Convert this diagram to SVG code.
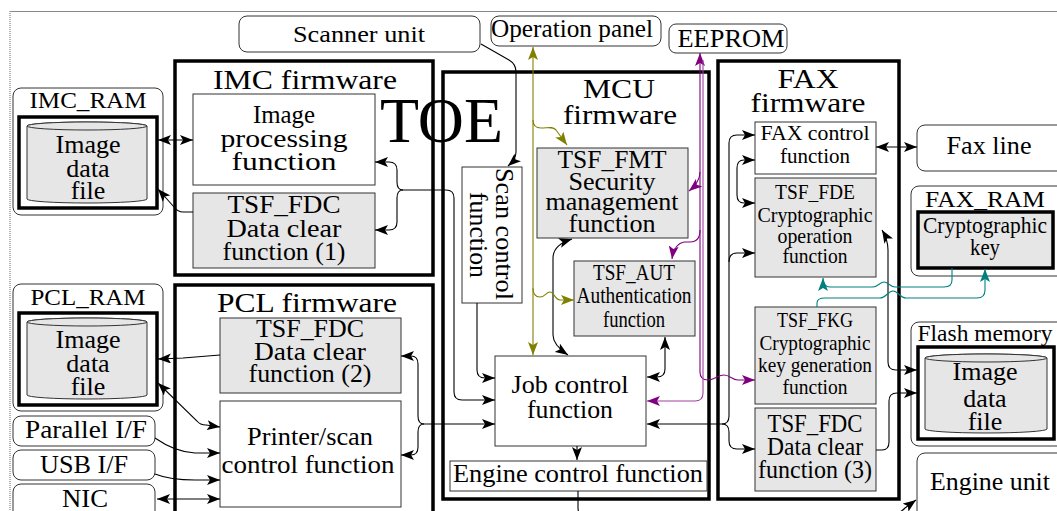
<svg xmlns="http://www.w3.org/2000/svg" width="1057" height="511" viewBox="0 0 1057 511">
<style>
text { font-family: "Liberation Serif", "Times New Roman", serif; fill:#000; text-anchor:middle; }
.frame { fill:none; stroke:#000; stroke-width:3.5; }
.box { fill:#fff; stroke:#333; stroke-width:1; }
.tsf { fill:#e6e6e6; stroke:#333; stroke-width:1; }
.ext { fill:#fff; stroke:#333; stroke-width:1; }
.store { fill:#fff; stroke:#000; stroke-width:3.5; }
.storeg { fill:#e6e6e6; stroke:#000; stroke-width:3.5; }
.cyl { fill:#e6e6e6; stroke:#333; stroke-width:1; }
.c { fill:none; stroke:#000; stroke-width:1.1; }
.ol { stroke:#808000; } .pu { stroke:#800080; } .te { stroke:#008080; }
</style>
<defs>
<marker id="a" viewBox="0 0 13 10" refX="13" refY="5" markerWidth="13" markerHeight="10" markerUnits="userSpaceOnUse" orient="auto-start-reverse"><path d="M0,0 L13,5 L0,10 L3,5 z" fill="#000"/></marker>
<marker id="aol" viewBox="0 0 13 10" refX="13" refY="5" markerWidth="13" markerHeight="10" markerUnits="userSpaceOnUse" orient="auto-start-reverse"><path d="M0,0 L13,5 L0,10 L3,5 z" fill="#808000"/></marker>
<marker id="apu" viewBox="0 0 13 10" refX="13" refY="5" markerWidth="13" markerHeight="10" markerUnits="userSpaceOnUse" orient="auto-start-reverse"><path d="M0,0 L13,5 L0,10 L3,5 z" fill="#800080"/></marker>
<marker id="ate" viewBox="0 0 13 10" refX="13" refY="5" markerWidth="13" markerHeight="10" markerUnits="userSpaceOnUse" orient="auto-start-reverse"><path d="M0,0 L13,5 L0,10 L3,5 z" fill="#008080"/></marker>
</defs>
<rect width="1057" height="511" fill="#fff"/>
<line x1="10" y1="11.5" x2="1057" y2="11.5" stroke="#888" stroke-width="1"/>
<line x1="10" y1="11" x2="10" y2="511" stroke="#999" stroke-width="1.5" stroke-dasharray="1,1"/>

<!-- frames -->
<g id="imc-firmware">
<rect class="frame" x="175" y="61" width="258" height="214"/>
<text x="305" y="89" font-size="27" textLength="184" lengthAdjust="spacingAndGlyphs">IMC firmware</text>
</g>
<g id="pcl-firmware">
<rect class="frame" x="175" y="285" width="258" height="240"/>
<text x="307" y="312" font-size="27" textLength="180" lengthAdjust="spacingAndGlyphs">PCL firmware</text>
</g>
<g id="mcu-firmware">
<rect class="frame" x="443" y="72" width="266" height="427"/>
<text x="619" y="98" font-size="28" textLength="72" lengthAdjust="spacingAndGlyphs">MCU</text>
<text x="620" y="124" font-size="28" textLength="114" lengthAdjust="spacingAndGlyphs">firmware</text>
</g>
<g id="fax-firmware">
<rect class="frame" x="718" y="61" width="181" height="438"/>
<text x="808" y="88" font-size="28" textLength="61" lengthAdjust="spacingAndGlyphs">FAX</text>
<text x="808" y="112" font-size="28" textLength="115" lengthAdjust="spacingAndGlyphs">firmware</text>
</g>
<g id="toe-label">
<text x="441.5" y="142" font-size="64" textLength="123" lengthAdjust="spacingAndGlyphs">TOE</text>
</g>

<!-- external nodes -->
<g id="scanner-unit">
<rect class="ext" x="239" y="16" width="241" height="36" rx="8"/>
<text x="359" y="42" font-size="24" textLength="132" lengthAdjust="spacingAndGlyphs">Scanner unit</text>
</g>
<g id="operation-panel">
<rect class="ext" x="491" y="16" width="170" height="30" rx="8"/>
<text x="572" y="37" font-size="25" textLength="162" lengthAdjust="spacingAndGlyphs">Operation panel</text>
</g>
<g id="eeprom">
<rect class="ext" x="669" y="24" width="118" height="29" rx="7"/>
<text x="731" y="47" font-size="25" textLength="107" lengthAdjust="spacingAndGlyphs">EEPROM</text>
</g>
<g id="imc-ram">
<rect class="ext" x="13" y="88" width="150" height="127" rx="8"/>
<text x="88" y="108" font-size="23" textLength="117" lengthAdjust="spacingAndGlyphs">IMC_RAM</text>
<rect class="store" x="19" y="117" width="138" height="91"/>
<path class="cyl" d="M27,126 L27,199 A60,4 0 0 0 147,199 L147,126 A60,4 0 0 0 27,126 Z"/>
<ellipse class="cyl" cx="87" cy="126" rx="60" ry="4"/>
<text x="88" y="153" font-size="26">Image</text>
<text x="88" y="177" font-size="26">data</text>
<text x="88" y="199" font-size="26">file</text>
</g>
<g id="pcl-ram">
<rect class="ext" x="13" y="284" width="150" height="127" rx="8"/>
<text x="88" y="305" font-size="23" textLength="115" lengthAdjust="spacingAndGlyphs">PCL_RAM</text>
<rect class="store" x="19" y="313" width="138" height="92"/>
<path class="cyl" d="M27,322 L27,395 A60,4 0 0 0 147,395 L147,322 A60,4 0 0 0 27,322 Z"/>
<ellipse class="cyl" cx="87" cy="322" rx="60" ry="4"/>
<text x="88" y="348" font-size="26">Image</text>
<text x="88" y="372" font-size="26">data</text>
<text x="88" y="395" font-size="26">file</text>
</g>
<g id="parallel-if">
<rect class="ext" x="13" y="416" width="142" height="30" rx="8"/>
<text x="86" y="438" font-size="26" textLength="122" lengthAdjust="spacingAndGlyphs">Parallel I/F</text>
</g>
<g id="usb-if">
<rect class="ext" x="13" y="450" width="142" height="30" rx="8"/>
<text x="84" y="473" font-size="26" textLength="88" lengthAdjust="spacingAndGlyphs">USB I/F</text>
</g>
<g id="nic">
<rect class="ext" x="13" y="484" width="142" height="36" rx="8"/>
<text x="85" y="507" font-size="26" textLength="46" lengthAdjust="spacingAndGlyphs">NIC</text>
</g>
<g id="fax-line">
<rect class="ext" x="917" y="125" width="150" height="46" rx="8"/>
<text x="989" y="154" font-size="25" textLength="85" lengthAdjust="spacingAndGlyphs">Fax line</text>
</g>
<g id="fax-ram">
<rect class="ext" x="911" y="186" width="156" height="90" rx="8"/>
<text x="985" y="207" font-size="24" textLength="120" lengthAdjust="spacingAndGlyphs">FAX_RAM</text>
<rect class="storeg" x="918" y="212" width="135" height="56"/>
<text x="985" y="233" font-size="23" textLength="124" lengthAdjust="spacingAndGlyphs">Cryptographic</text>
<text x="985" y="255" font-size="23" textLength="30" lengthAdjust="spacingAndGlyphs">key</text>
</g>
<g id="flash-memory">
<rect class="ext" x="911" y="322" width="156" height="124" rx="8"/>
<text x="985" y="341" font-size="23" textLength="135" lengthAdjust="spacingAndGlyphs">Flash memory</text>
<rect class="store" x="918" y="347" width="136" height="92"/>
<path class="cyl" d="M925,358 L925,429 A61,4 0 0 0 1047,429 L1047,358 A61,4 0 0 0 925,358 Z"/>
<ellipse class="cyl" cx="986" cy="358" rx="61" ry="4"/>
<text x="985" y="380" font-size="26">Image</text>
<text x="985" y="407" font-size="26">data</text>
<text x="985" y="430" font-size="26">file</text>
</g>
<g id="engine-unit">
<rect class="ext" x="917" y="453" width="150" height="70" rx="8"/>
<text x="990" y="490" font-size="25" textLength="120" lengthAdjust="spacingAndGlyphs">Engine unit</text>
</g>

<!-- IMC nodes -->
<g id="image-processing">
<rect class="box" x="193" y="94" width="182" height="91"/>
<text x="284" y="123" font-size="26" textLength="62" lengthAdjust="spacingAndGlyphs">Image</text>
<text x="284" y="147" font-size="26" textLength="127" lengthAdjust="spacingAndGlyphs">processing</text>
<text x="284" y="170" font-size="26" textLength="105" lengthAdjust="spacingAndGlyphs">function</text>
</g>
<g id="tsf-fdc-1">
<rect class="tsf" x="193" y="193" width="182" height="75"/>
<text x="284" y="213" font-size="26" textLength="113" lengthAdjust="spacingAndGlyphs">TSF_FDC</text>
<text x="284" y="237" font-size="26" textLength="115" lengthAdjust="spacingAndGlyphs">Data clear</text>
<text x="284" y="260" font-size="26" textLength="123" lengthAdjust="spacingAndGlyphs">function (1)</text>
</g>
<!-- PCL nodes -->
<g id="tsf-fdc-2">
<rect class="tsf" x="220" y="318" width="181" height="75"/>
<text x="310" y="337" font-size="26" textLength="108" lengthAdjust="spacingAndGlyphs">TSF_FDC</text>
<text x="310" y="360" font-size="26" textLength="112" lengthAdjust="spacingAndGlyphs">Data clear</text>
<text x="310" y="382" font-size="26" textLength="123" lengthAdjust="spacingAndGlyphs">function (2)</text>
</g>
<g id="printer-scan-control">
<rect class="box" x="220" y="401" width="181" height="106"/>
<text x="310" y="445" font-size="26" textLength="126" lengthAdjust="spacingAndGlyphs">Printer/scan</text>
<text x="308" y="473" font-size="26" textLength="173" lengthAdjust="spacingAndGlyphs">control function</text>
</g>
<!-- MCU nodes -->
<g id="scan-control">
<rect class="box" x="462" y="167" width="60" height="136"/>
<text transform="translate(496,234) rotate(90)" font-size="26" textLength="132" lengthAdjust="spacingAndGlyphs">Scan control</text>
<text transform="translate(470,235) rotate(90)" font-size="26" textLength="86" lengthAdjust="spacingAndGlyphs">function</text>
</g>
<g id="tsf-fmt">
<rect class="tsf" x="537" y="148" width="151" height="90"/>
<text x="612" y="168" font-size="25" textLength="109" lengthAdjust="spacingAndGlyphs">TSF_FMT</text>
<text x="612" y="190" font-size="25" textLength="87" lengthAdjust="spacingAndGlyphs">Security</text>
<text x="612" y="210" font-size="25" textLength="133" lengthAdjust="spacingAndGlyphs">management</text>
<text x="612" y="232" font-size="25" textLength="87" lengthAdjust="spacingAndGlyphs">function</text>
</g>
<g id="tsf-aut">
<rect class="tsf" x="574" y="261" width="121" height="75"/>
<text x="634" y="280" font-size="23" textLength="82" lengthAdjust="spacingAndGlyphs">TSF_AUT</text>
<text x="634" y="303" font-size="23" textLength="115" lengthAdjust="spacingAndGlyphs">Authentication</text>
<text x="634" y="327" font-size="23" textLength="62" lengthAdjust="spacingAndGlyphs">function</text>
</g>
<g id="job-control">
<rect class="box" x="495" y="356" width="151" height="90"/>
<text x="570" y="393" font-size="26" textLength="117" lengthAdjust="spacingAndGlyphs">Job control</text>
<text x="570" y="418" font-size="26" textLength="86" lengthAdjust="spacingAndGlyphs">function</text>
</g>
<g id="engine-control">
<rect class="box" x="450" y="461" width="257" height="30"/>
<text x="578" y="482" font-size="26" textLength="250" lengthAdjust="spacingAndGlyphs">Engine control function</text>
</g>
<!-- FAX nodes -->
<g id="fax-control">
<rect class="box" x="755" y="122" width="121" height="52"/>
<text x="815" y="140" font-size="22" textLength="109" lengthAdjust="spacingAndGlyphs">FAX control</text>
<text x="815" y="163" font-size="22" textLength="70" lengthAdjust="spacingAndGlyphs">function</text>
</g>
<g id="tsf-fde">
<rect class="tsf" x="755" y="178" width="121" height="99"/>
<text x="815" y="199" font-size="22" textLength="80" lengthAdjust="spacingAndGlyphs">TSF_FDE</text>
<text x="815" y="222" font-size="22" textLength="115" lengthAdjust="spacingAndGlyphs">Cryptographic</text>
<text x="815" y="243" font-size="22" textLength="75" lengthAdjust="spacingAndGlyphs">operation</text>
<text x="815" y="263" font-size="22" textLength="65" lengthAdjust="spacingAndGlyphs">function</text>
</g>
<g id="tsf-fkg">
<rect class="tsf" x="755" y="307" width="121" height="97"/>
<text x="815" y="327" font-size="22" textLength="76" lengthAdjust="spacingAndGlyphs">TSF_FKG</text>
<text x="815" y="350" font-size="22" textLength="111" lengthAdjust="spacingAndGlyphs">Cryptographic</text>
<text x="815" y="372" font-size="22" textLength="114" lengthAdjust="spacingAndGlyphs">key generation</text>
<text x="815" y="394" font-size="22" textLength="65" lengthAdjust="spacingAndGlyphs">function</text>
</g>
<g id="tsf-fdc-3">
<rect class="tsf" x="755" y="408" width="121" height="83"/>
<text x="815" y="432" font-size="25" textLength="95" lengthAdjust="spacingAndGlyphs">TSF_FDC</text>
<text x="815" y="455" font-size="25" textLength="96" lengthAdjust="spacingAndGlyphs">Data clear</text>
<text x="815" y="478" font-size="25" textLength="114" lengthAdjust="spacingAndGlyphs">function (3)</text>
</g>

<!-- connectors -->
<g id="connectors">
<g class="c">
<path d="M158,140 L193,140" marker-start="url(#a)" marker-end="url(#a)"/>
<path d="M193,212 L183,212 Q178,212 174,207 L158,189" marker-end="url(#a)"/>
<path d="M481,44 L509,60 Q516,64 516,72 L516,152 Q516,159 508,166" marker-end="url(#a)"/>
<path d="M375,162 L389,162 Q397,162 397,170 L397,182 Q397,190 403,190 Q397,190 397,198 L397,222 Q397,230 389,230 L375,230" marker-start="url(#a)" marker-end="url(#a)"/>
<path d="M402,190 L446,190 Q454,190 454,198 L454,392 Q454,400 462,400 L495,400" marker-end="url(#a)"/>
<path d="M477,303 L477,370 Q477,378 485,378 L495,378" marker-end="url(#a)"/>
<path d="M572,239 Q553,245 553,258 L553,335 Q553,345 568,355" marker-start="url(#a)" marker-end="url(#a)"/>
<path d="M665,337 L665,369 Q665,377 657,377 L647,377" marker-start="url(#a)" marker-end="url(#a)"/>
<path d="M577,446 L577,460" marker-end="url(#a)"/>
<path d="M578,491 L578,508 Q578,515 585,515 L890,515 Q898,515 905,508 L916,500" marker-end="url(#a)"/>
<path d="M220,355 L183,358 L158,359" marker-end="url(#a)"/>
<path d="M158,383 L197,421 Q200,425 206,425 L220,427" marker-start="url(#a)" marker-end="url(#a)"/>
<path d="M155,438 Q175,452 195,453 L220,453" marker-end="url(#a)"/>
<path d="M155,474 Q170,480 195,480 L220,480" marker-end="url(#a)"/>
<path d="M157,499 L220,499" marker-start="url(#a)" marker-end="url(#a)"/>
<path d="M401,356 L411,356 Q418,356 418,364 L418,416 Q418,424 424,424 Q418,424 418,432 L418,447 Q418,455 411,455 L401,455" marker-start="url(#a)" marker-end="url(#a)"/>
<path d="M423,424 L495,424" marker-end="url(#a)"/>
<path d="M647,424 L722,424" marker-start="url(#a)"/>
<path d="M722,424 Q729,424 729,416 L729,143 Q729,135 737,135 L755,135" marker-end="url(#a)"/>
<path d="M729,262 Q729,253 737,253 L755,253" marker-end="url(#a)"/>
<path d="M722,424 Q729,424 729,432 L729,441 Q729,449 737,449 L755,449" marker-end="url(#a)"/>
<path d="M755,160 L744,160 Q737,160 737,168 L737,195 Q737,203 744,203 L755,203" marker-start="url(#a)" marker-end="url(#a)"/>
<path d="M876,147 L917,147" marker-start="url(#a)" marker-end="url(#a)"/>
<path d="M882,230 Q888,240 888,250 L888,362 Q888,370 896,370 L917,370" marker-start="url(#a)" marker-end="url(#a)"/>
<path d="M876,450 L882,450 Q889,450 889,442 L889,401 Q889,393 897,393 L917,393" marker-end="url(#a)"/>
</g>
<g class="c ol">
<path d="M533,47 L533,355" marker-start="url(#aol)" marker-end="url(#aol)"/>
<path d="M533,120 Q533,128 541,128 C548,128 552,126 556,130 L567,145" marker-end="url(#aol)"/>
<path d="M533,288 Q533,297 540,297 C545,297 546,292 550,292 C554,292 555,300 560,300 L574,300" marker-end="url(#aol)"/>
</g>
<g class="c pu">
<path d="M700,53 L700,372 Q700,380 708,380 C715,380 718,375 724,375 C730,375 732,380 738,380 L755,380" marker-start="url(#apu)" marker-end="url(#apu)"/>
<path d="M703,60 L703,393 Q703,401 695,401 L647,401" marker-end="url(#apu)" stroke="#a040a0"/>
<path d="M700,172 Q700,182 689,191" marker-end="url(#apu)"/>
<path d="M700,230 Q700,242 690,242 L684,242 Q674,244 672,259" marker-end="url(#apu)"/>
</g>
<g class="c te">
<path d="M952,268 L952,280 Q952,287 944,287 L895,287 C890,287 888,282 884,282 C880,282 878,287 873,287 L830,287 Q823,287 823,278" marker-end="url(#ate)"/>
<path d="M817,307 L817,303 Q817,298 825,298 L880,298 C886,298 888,291 893,291 C898,291 900,298 906,298 L977,298 Q985,298 985,290 L985,269" marker-end="url(#ate)"/>
</g>
</g>
</svg>
